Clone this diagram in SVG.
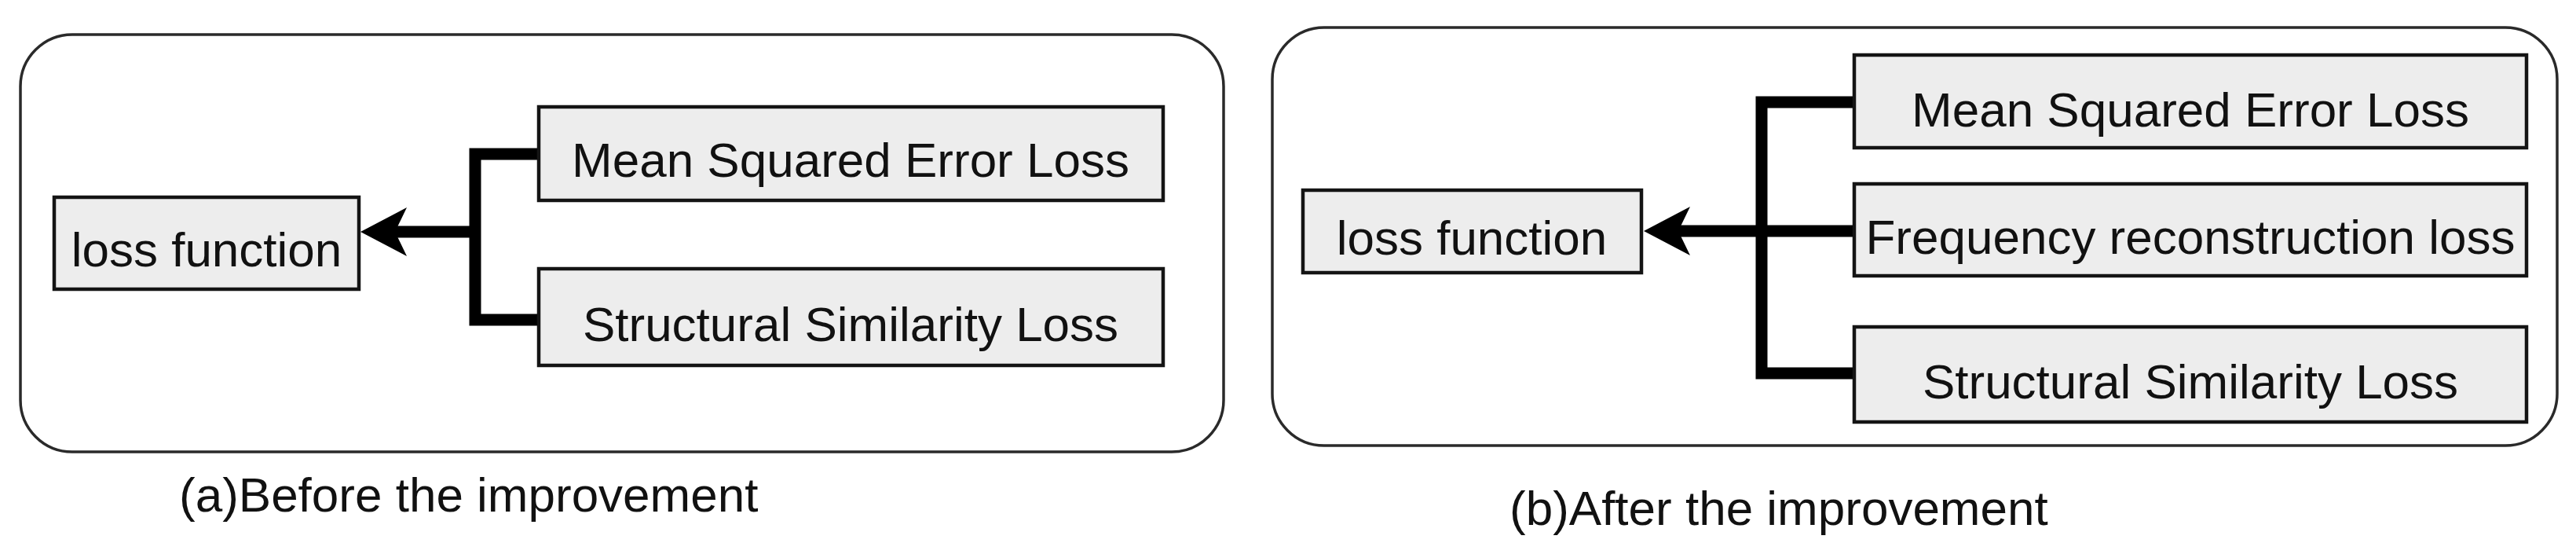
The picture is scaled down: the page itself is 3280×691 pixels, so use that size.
<svg xmlns="http://www.w3.org/2000/svg" width="3280" height="691" viewBox="0 0 3280 691">
<style>
.panel{fill:#ffffff;stroke:#2a2a2a;stroke-width:3.5}
.box{fill:#ededed;stroke:#141414;stroke-width:4.5}
.t{font-family:"Liberation Sans",Arial,sans-serif;font-size:62px;fill:#111;text-anchor:middle}
.cap{font-family:"Liberation Sans",Arial,sans-serif;font-size:62px;fill:#111}
.wire{fill:none;stroke:#000;stroke-width:15;stroke-linejoin:miter;stroke-linecap:butt}
.head{fill:#000}
</style>
<rect width="3280" height="691" fill="#ffffff"/>
<g id="panel-a">
<rect class="panel" x="26" y="44" width="1532" height="531" rx="66" ry="66"/>
</g>
<g id="panel-b">
<rect class="panel" x="1620" y="35" width="1636" height="532" rx="66" ry="66"/>
</g>
<g id="connectors">
<path class="wire" d="M686,196 H605 V407 H686"/>
<path class="wire" d="M503,295 H605"/>
<polygon class="head" points="459,295 518,264 503,295 518,326"/>
<path class="wire" d="M2361,130 H2243 V475 H2361"/>
<path class="wire" d="M2137,294 H2361"/>
<polygon class="head" points="2093,294 2152,263 2137,294 2152,325"/>
</g>
<g id="a-loss-function">
<rect class="box" x="69" y="251" width="388" height="117"/>
<text class="t" x="263" y="339">loss function</text>
</g>
<g id="a-mse">
<rect class="box" x="686" y="136" width="795" height="119"/>
<text class="t" x="1083" y="225">Mean Squared Error Loss</text>
</g>
<g id="a-ssl">
<rect class="box" x="686" y="342" width="795" height="123"/>
<text class="t" x="1083" y="434">Structural Similarity Loss</text>
</g>
<g id="b-loss-function">
<rect class="box" x="1659" y="242" width="431" height="105"/>
<text class="t" x="1874" y="324">loss function</text>
</g>
<g id="b-mse">
<rect class="box" x="2361" y="70" width="856" height="118"/>
<text class="t" x="2789" y="161">Mean Squared Error Loss</text>
</g>
<g id="b-freq">
<rect class="box" x="2361" y="234" width="856" height="117"/>
<text class="t" x="2789" y="323">Frequency reconstruction loss</text>
</g>
<g id="b-ssl">
<rect class="box" x="2361" y="416" width="856" height="121"/>
<text class="t" x="2789" y="507">Structural Similarity Loss</text>
</g>
<g id="captions">
<text class="cap" x="228" y="651">(a)Before the improvement</text>
<text class="cap" x="1922" y="668">(b)After the improvement</text>
</g>
</svg>
